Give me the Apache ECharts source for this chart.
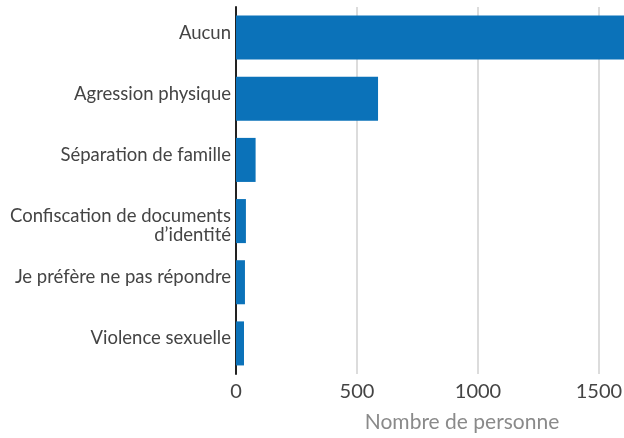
<!DOCTYPE html>
<html><head><meta charset="utf-8">
<script src="https://cdn.jsdelivr.net/npm/echarts@6/dist/echarts.min.js"></script>
<style>html,body{margin:0;padding:0;background:#fff}#c{width:624px;height:438px}</style>
</head><body><div id="c"></div>
<script>
const categories = ["Aucun", "Agression physique", "Séparation de famille", "Confiscation de documents\nd’identité", "Je préfère ne pas répondre", "Violence sexuelle"];
const values = [1620, 587, 81, 41, 37, 33];
const xTicks = [0, 500, 1000, 1500];
const axisName = "Nombre de personne";

const labelBase = {fontFamily: 'Lato', fontSize: 18.5, color: '#444', lineHeight: 19};
const chart = echarts.init(document.getElementById('c'));
chart.setOption({
  animation: false,
  textStyle: {fontFamily: 'Lato'},
  grid: {left: 236, right: -4, top: 7, bottom: 64, containLabel: false, outerBoundsMode: 'none'},
  xAxis: {
    type: 'value', min: 0, max: 1620, interval: 500,
    name: axisName, nameLocation: 'middle', nameGap: 38,
    nameTextStyle: {fontFamily: 'Lato', fontSize: 21, color: '#8a8a8a', padding: [0, 0, 0, 60]},
    axisLine: {show: false}, axisTick: {show: false},
    axisLabel: {fontFamily: 'Lato', fontSize: 20, color: '#444', margin: 8,
      formatter: v => xTicks.includes(v) ? String(v) : ''},
    splitLine: {show: true, lineStyle: {color: '#dcdcdc', width: 2}}
  },
  yAxis: {
    type: 'category', data: categories, inverse: true,
    axisLine: {show: true, onZero: false, lineStyle: {color: '#222', width: 2}},
    axisTick: {show: false},
    axisLabel: Object.assign({}, labelBase, {margin: 5,
      formatter: v => {
        const parts = v.split('\n');
        if (parts.length === 1) return '{s|' + v + '}';
        return '{t|' + parts[0] + '}\n{n|' + parts.slice(1).join('}\n{n|') + '}';
      },
      rich: {
        s: Object.assign({}, labelBase, {padding: [0, 0, 10, 0]}),
        t: Object.assign({}, labelBase, {lineHeight: 28}),
        n: Object.assign({}, labelBase, {lineHeight: 10})
      }
    })
  },
  series: [{
    type: 'bar', data: values, barCategoryGap: '28%',
    itemStyle: {color: '#0b72b9'}
  }]
});
</script></body></html>
